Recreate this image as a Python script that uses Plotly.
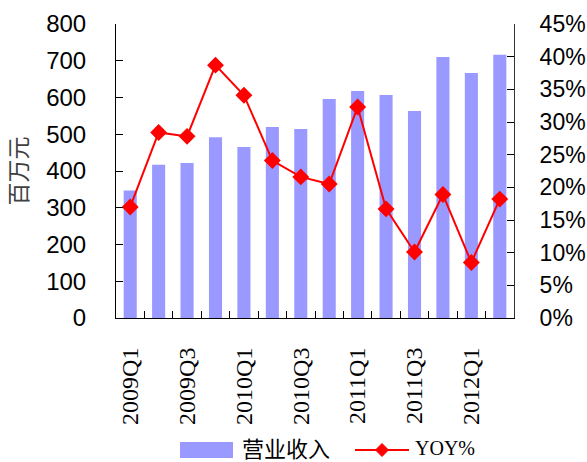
import plotly.graph_objects as go

quarters = ["2009Q1", "2009Q2", "2009Q3", "2009Q4", "2010Q1", "2010Q2", "2010Q3",
            "2010Q4", "2011Q1", "2011Q2", "2011Q3", "2011Q4", "2012Q1", "2012Q2"]
revenue = [347, 417, 422, 492, 465, 520, 514, 596, 618, 607, 563, 710, 667, 716]
yoy = [0.170, 0.284, 0.278, 0.387, 0.341, 0.241, 0.216, 0.205, 0.323, 0.167,
       0.101, 0.189, 0.085, 0.182]
tick_labels = [q if i % 2 == 0 else "" for i, q in enumerate(quarters)]
bar_name = "营业收入"
line_name = "YOY%"

BAR_COLOR = "#9999FF"
LINE_COLOR = "#FF0000"
serif = "Liberation Serif, serif"
cjk = "Noto Sans CJK SC"
sans = "Liberation Sans, Arial, sans-serif"

W, H = 587, 462
L, R, T, B = 116, 73, 24, 144
PW, PH = W - L - R, H - T - B


def px_x(px):
    return (px - L) / PW


def px_y(py):
    return (H - B - py) / PH


fig = go.Figure()
fig.add_trace(go.Bar(
    x=quarters, y=revenue, name=bar_name,
    marker=dict(color=BAR_COLOR, line=dict(width=0)),
    width=0.46, yaxis="y",
))
fig.add_trace(go.Scatter(
    x=quarters, y=yoy, name=line_name, mode="lines+markers",
    line=dict(color=LINE_COLOR, width=2),
    marker=dict(symbol="diamond", size=13, color=LINE_COLOR),
    yaxis="y2",
))

# Legend drawn below the category labels
ly = 450
shapes = [
    dict(type="rect", xref="paper", yref="paper",
         x0=px_x(180), x1=px_x(233), y0=px_y(458), y1=px_y(442),
         fillcolor=BAR_COLOR, line=dict(width=0)),
    dict(type="line", xref="paper", yref="paper",
         x0=px_x(355), x1=px_x(409), y0=px_y(ly), y1=px_y(ly),
         line=dict(color=LINE_COLOR, width=2)),
]
cx, hw = 382, 6.5
shapes.append(dict(
    type="path", xref="paper", yref="paper",
    path=(f"M {px_x(cx - hw)},{px_y(ly)} L {px_x(cx)},{px_y(ly - hw)} "
          f"L {px_x(cx + hw)},{px_y(ly)} L {px_x(cx)},{px_y(ly + hw)} Z"),
    fillcolor=LINE_COLOR, line=dict(color=LINE_COLOR, width=1),
))
annotations = [
    dict(text=bar_name, xref="paper", yref="paper", x=px_x(240), y=px_y(447),
         xanchor="left", yanchor="middle", showarrow=False,
         font=dict(family=cjk, size=22, color="#000000")),
    dict(text=line_name, xref="paper", yref="paper", x=px_x(413), y=px_y(448),
         xanchor="left", yanchor="middle", showarrow=False,
         font=dict(family=serif, size=20, color="#000000")),
]

fig.update_layout(
    width=W, height=H,
    margin=dict(l=L, r=R, t=T, b=B, autoexpand=False),
    plot_bgcolor="white", paper_bgcolor="white",
    showlegend=False,
    shapes=shapes, annotations=annotations,
    xaxis=dict(
        type="category", tickmode="array", tickvals=quarters, ticktext=tick_labels,
        range=[-0.5, len(quarters) - 0.5],
        tickangle=-90, tickson="boundaries", ticks="inside", ticklen=7,
        tickcolor="#000000", showline=True, linecolor="#000000", linewidth=1,
        tickfont=dict(family=serif, size=24, color="#000000"),
        ticklabelstandoff=19, automargin=False,
        showgrid=False, zeroline=False,
    ),
    yaxis=dict(
        range=[0, 800], dtick=100, ticks="inside", ticklen=7,
        tickcolor="#000000", showline=True, linecolor="#000000", linewidth=1,
        showgrid=False, zeroline=False, automargin=False,
        tickfont=dict(family=sans, size=24, color="#000000"),
        ticklabelstandoff=24,
        title=dict(text="百万元", font=dict(family=cjk, size=23, color="#404040"),
                   standoff=12),
    ),
    yaxis2=dict(
        range=[0, 0.45], dtick=0.05, tickformat=".0%", overlaying="y", side="right",
        ticks="inside", ticklen=7, tickcolor="#000000", showline=True,
        linecolor="#333333", linewidth=1, showgrid=False, zeroline=False,
        automargin=False,
        tickfont=dict(family=sans, size=23, color="#000000"),
        ticklabelstandoff=20,
    ),
)

fig.write_html("out.html")
